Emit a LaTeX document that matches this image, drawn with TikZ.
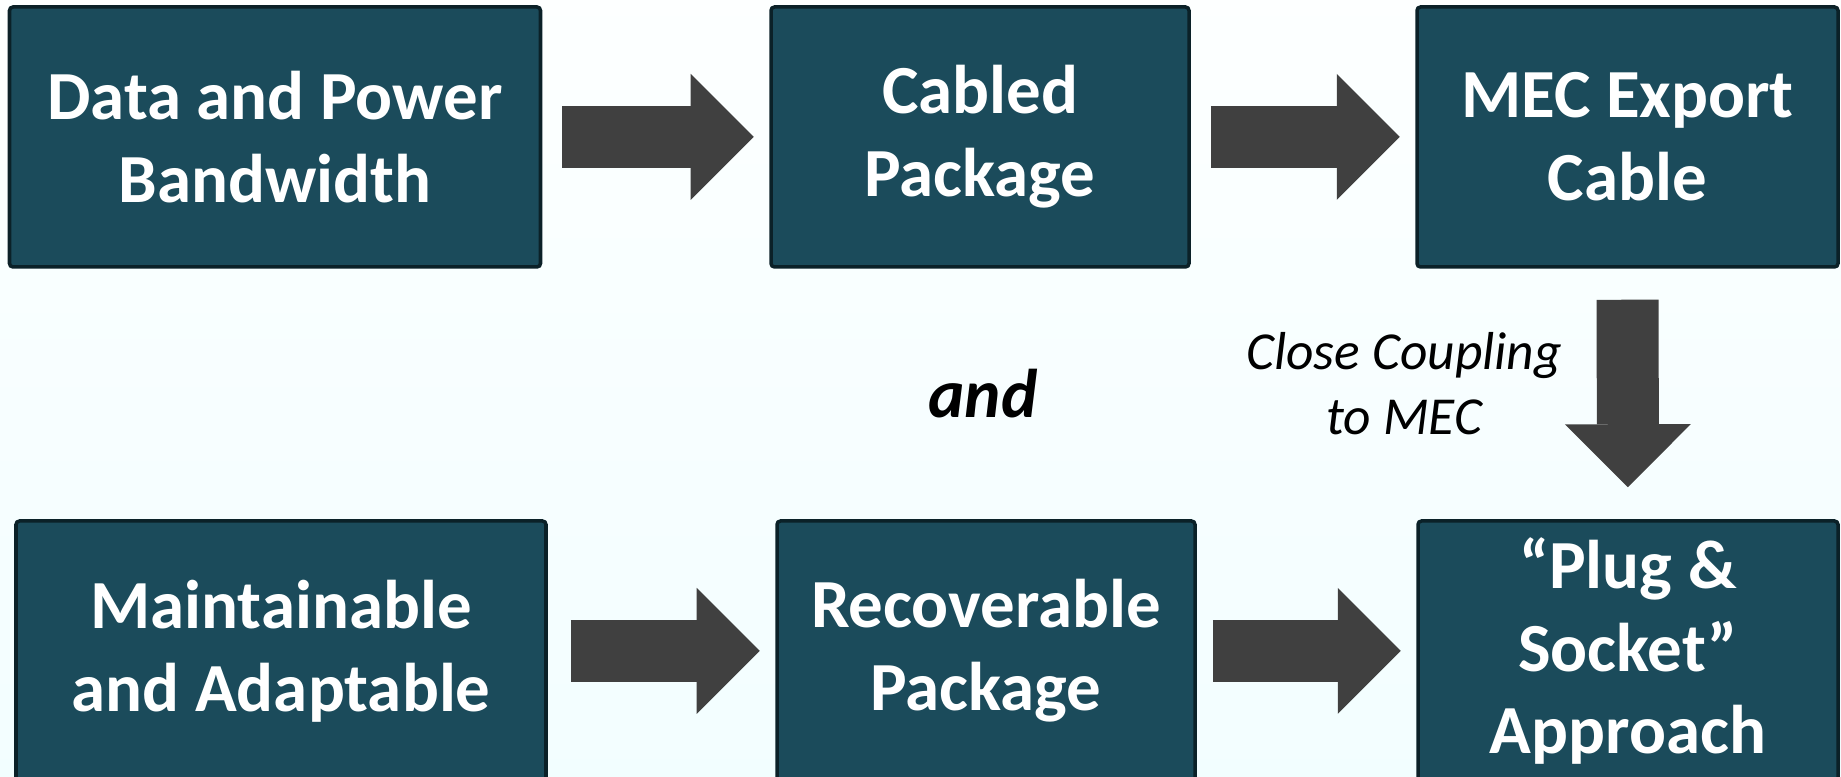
\documentclass[tikz,border=0pt]{standalone}
\usepackage{fontspec}
\setmainfont{Carlito}
\usetikzlibrary{arrows.meta,calc}
\definecolor{boxteal}{HTML}{1B4B5B}
\definecolor{boxedge}{HTML}{0B2128}
\definecolor{arrowgrey}{HTML}{404040}
\begin{document}
\begin{tikzpicture}[
	box/.style={draw=boxedge,line width=1pt,rounded corners=1pt,fill=boxteal,text=white,align=center,
		font=\bfseries\fontsize{19.6}{23.6}\selectfont,minimum height=2.6cm,inner sep=0pt},
	fat/.style={draw=arrowgrey,line width=0.62cm,-{Triangle[length=0.63cm,width=1.26cm,line width=0pt]},
		shorten <=0.23cm,shorten >=0.155cm}]
	\useasboundingbox (0,0) rectangle (18.41,7.77);
	\clip (0,0) rectangle (18.41,7.77);
	\shade[top color=white!70!cyan!3,bottom color=blue!9!cyan!5!white] (0,0) rectangle (18.41,7.77);
	% top row
	\node[box,minimum width=5.31cm] (D) at (2.75,6.40) {Data and Power\\Bandwidth};
	\node[box,minimum width=4.18cm] (C) at (9.80,6.40) {Cabled\\Package};
	\node[box,minimum width=4.21cm] (M) at (16.275,6.40) {MEC Export\\Cable};
	% bottom row
	\node[box,minimum width=5.30cm] (A) at (2.81,1.26) {Maintainable\\and Adaptable};
	\node[box,minimum width=4.18cm] (R) at (9.86,1.26) {Recoverable\\Package};
	\node[box,minimum width=4.20cm] (P) at (16.28,1.26) {``Plug \&\\Socket''\\Approach};
	\draw[fat,shorten <=0.2cm] (D) -- (C);
	\draw[fat,shorten <=0.2cm] (C) -- (M);
	\draw[fat] (A) -- (R);
	\draw[fat,shorten <=0.16cm] (R) -- (P);
	\draw[fat,shorten <=0.31cm,shorten >=0.32cm] (M) -- (P)
		node[midway,left=0.23cm,yshift=0.1cm,align=center,font=\itshape\fontsize{15.2}{18.5}\selectfont] {Close Coupling\\to MEC};
	\node[font=\bfseries\itshape\fontsize{19.6}{23.6}\selectfont] at ($(C)!0.5!(R)$) {and};
\end{tikzpicture}
\end{document}
